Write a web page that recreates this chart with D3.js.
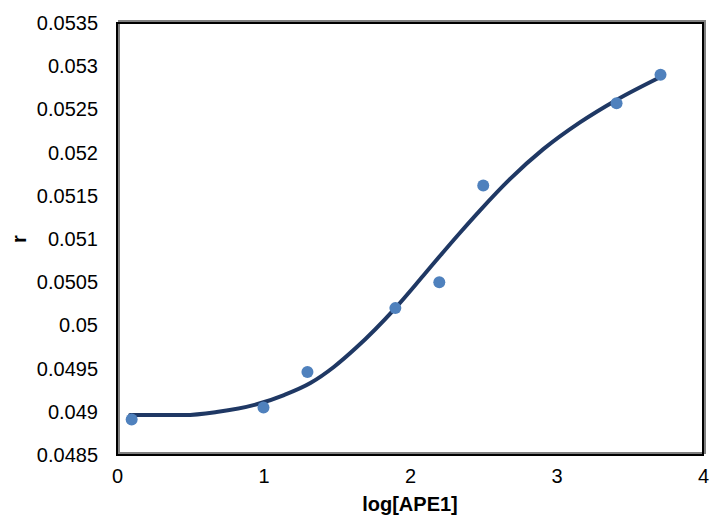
<!DOCTYPE html>
<html>
<head>
<meta charset="utf-8">
<script src="https://cdn.jsdelivr.net/npm/d3@7.9.0/dist/d3.min.js"></script>
<style>
  body { margin: 0; background: #fff; }
  text { font-family: "Liberation Sans", Arial, sans-serif; fill: #000; }
</style>
</head>
<body>
<svg id="chart" width="711" height="521"></svg>
<script>
// measured points (log[APE1], r)
const pointX = [0.1, 1.0, 1.3, 1.9, 2.2, 2.5, 3.41, 3.71];
const pointY = [0.04891, 0.04905, 0.04946, 0.05020, 0.05050, 0.05162, 0.05257, 0.05290];

// fitted curve
const curveX = [0.09, 0.46, 0.68, 0.96, 1.14, 1.32, 1.48, 1.63, 1.90, 2.09, 2.21, 2.34, 2.48, 2.68, 2.91, 3.16, 3.41, 3.71];
const curveY = [0.048963, 0.048963, 0.048998, 0.049090, 0.049194, 0.049333, 0.049519, 0.049738, 0.050201,
                0.050575, 0.050815, 0.051070, 0.051335, 0.051690, 0.052040, 0.052350, 0.052610, 0.052875];

const xTicks = [0, 1, 2, 3, 4];
const yTicks = [0.0485, 0.049, 0.0495, 0.05, 0.0505, 0.051, 0.0515, 0.052, 0.0525, 0.053, 0.0535];

const svg = d3.select("#chart");
const plotLeft = 117, plotRight = 703, plotTop = 23, plotBottom = 455;

const x = d3.scaleLinear().domain([0, 4]).range([plotLeft, plotRight]);
const y = d3.scaleLinear().domain([0.0485, 0.0535]).range([plotBottom, plotTop]);

// plot area frame with Excel-like shadow
svg.append("rect")
  .attr("x", plotLeft + 2).attr("y", plotTop - 2)
  .attr("width", plotRight - plotLeft).attr("height", plotBottom - plotTop)
  .attr("fill", "none").attr("stroke", "#808080").attr("stroke-width", 2);
svg.append("rect")
  .attr("x", plotLeft).attr("y", plotTop)
  .attr("width", plotRight - plotLeft).attr("height", plotBottom - plotTop)
  .attr("fill", "none").attr("stroke", "#000").attr("stroke-width", 2);

// axes (labels only, no tick marks)
const xAxis = svg.append("g")
  .attr("transform", `translate(0,${plotBottom})`)
  .call(d3.axisBottom(x).tickValues(xTicks).tickFormat(d3.format("d")).tickSize(0).tickPadding(14));
xAxis.select(".domain").remove();
xAxis.selectAll("text").attr("font-size", 20).style("font-family", "Liberation Sans, Arial, sans-serif");

const yAxis = svg.append("g")
  .attr("transform", `translate(${plotLeft},0)`)
  .call(d3.axisLeft(y).tickValues(yTicks).tickFormat(d => String(+d.toFixed(4))).tickSize(0).tickPadding(19));
yAxis.select(".domain").remove();
yAxis.selectAll("text").attr("font-size", 20).style("font-family", "Liberation Sans, Arial, sans-serif");

// curve
const line = d3.line()
  .x((d, i) => x(curveX[i]))
  .y((d, i) => y(curveY[i]))
  .curve(d3.curveMonotoneX);

svg.append("path")
  .datum(curveX)
  .attr("d", line)
  .attr("fill", "none")
  .attr("stroke", "#1f3864")
  .attr("stroke-width", 4)
  .attr("stroke-linecap", "round");

// points
svg.selectAll("circle.pt")
  .data(pointX)
  .join("circle")
  .attr("class", "pt")
  .attr("cx", d => x(d))
  .attr("cy", (d, i) => y(pointY[i]))
  .attr("r", 6)
  .attr("fill", "#4f81bd");

// axis titles
svg.append("text")
  .attr("x", (plotLeft + plotRight) / 2).attr("y", 511)
  .attr("text-anchor", "middle")
  .attr("font-size", 20).attr("font-weight", "bold")
  .text("log[APE1]");

svg.append("text")
  .attr("transform", `translate(26,${(plotTop + plotBottom) / 2}) rotate(-90)`)
  .attr("text-anchor", "middle")
  .attr("font-size", 20).attr("font-weight", "bold")
  .text("r");
</script>
</body>
</html>
